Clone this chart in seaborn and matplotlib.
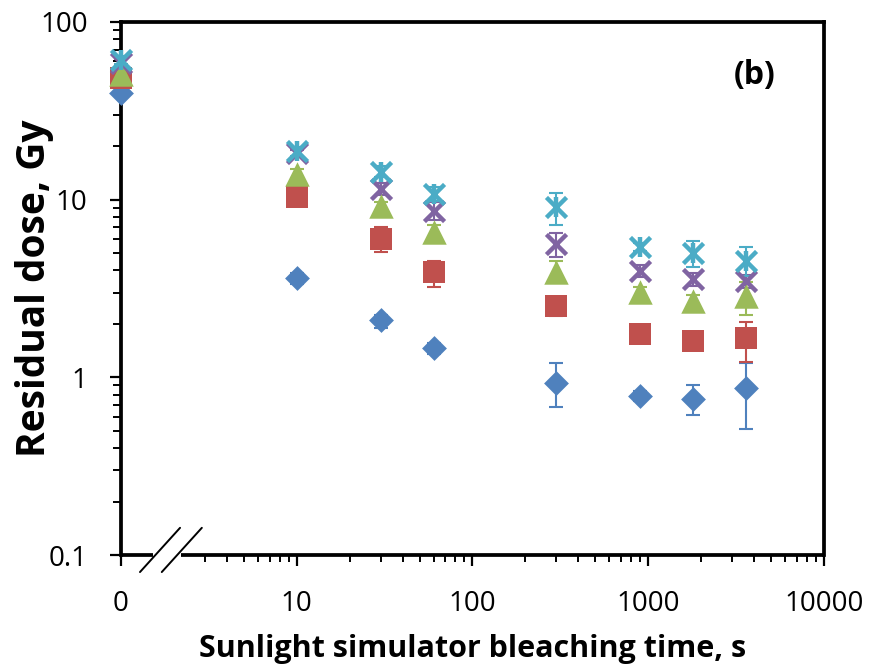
import numpy as np
import pandas as pd
import matplotlib
matplotlib.use("Agg")
import matplotlib.pyplot as plt
import seaborn as sns
from matplotlib.ticker import FixedLocator, FixedFormatter, NullFormatter, LogLocator

# ---- data (t = 0 is drawn at the axis origin, x = 1) ----
times = [1, 10, 30, 60, 300, 900, 1800, 3600]
x_tick_values = [1, 10, 100, 1000, 10000]
x_tick_labels = ["0", "10", "100", "1000", "10000"]
y_tick_values = [0.1, 1, 10, 100]
y_tick_labels = ["0.1", "1", "10", "100"]

blue = [39.7, 3.62, 2.10, 1.46, 0.93, 0.79, 0.76, 0.87]
blue_lo = [2.0, 0.25, 0.20, 0.10, 0.25, 0.05, 0.15, 0.36]
blue_hi = [2.0, 0.25, 0.15, 0.10, 0.27, 0.05, 0.14, 0.34]

red = [48.3, 10.4, 6.0, 3.92, 2.52, 1.75, 1.60, 1.66]
red_lo = [3.0, 0.5, 0.90, 0.70, 0.30, 0.10, 0.10, 0.44]
red_hi = [3.0, 0.5, 1.00, 0.60, 0.30, 0.10, 0.10, 0.38]

green = [51.0, 14.0, 9.25, 6.6, 3.92, 3.02, 2.69, 2.87]
green_lo = [2.0, 0.8, 0.5, 0.6, 0.5, 0.2, 0.2, 0.63]
green_hi = [2.0, 0.8, 0.5, 0.6, 0.6, 0.2, 0.2, 0.57]

purple = [58.6, 18.2, 11.5, 8.67, 5.64, 3.97, 3.58, 3.49]
purple_lo = [3.0, 0.8, 0.9, 1.0, 0.88, 0.3, 0.3, 0.3]
purple_hi = [3.0, 0.8, 0.9, 1.0, 0.86, 0.3, 0.3, 0.3]

cyan = [61.0, 18.7, 14.4, 10.8, 9.13, 5.43, 5.02, 4.52]
cyan_lo = [3.0, 1.0, 1.0, 1.0, 1.9, 0.3, 0.85, 0.8]
cyan_hi = [3.0, 1.0, 1.0, 1.0, 1.8, 0.3, 0.85, 0.9]

series = [
    ("Blue", blue, blue_lo, blue_hi, "#4F81BD", "D", 160),
    ("Red", red, red_lo, red_hi, "#C0504D", "s", 270),
    ("Green", green, green_lo, green_hi, "#9BBB59", "^", 310),
    ("Purple", purple, purple_lo, purple_hi, "#8064A2", "x", 210),
    ("Cyan", cyan, cyan_lo, cyan_hi, "#4BACC6", "x", 210),
]

sns.set_style("ticks")
plt.rcParams['font.family'] = ['Open Sans', 'DejaVu Sans']
plt.rcParams['text.color'] = 'black'
plt.rcParams['axes.labelcolor'] = 'black'
plt.rcParams['xtick.color'] = 'black'
plt.rcParams['ytick.color'] = 'black'

fig = plt.figure(figsize=(8.7, 6.71), dpi=100)
ax = fig.add_axes([121/870, 1-555/671, (824-121)/870, (555-22)/671])

for name, vals, lo, hi, col, mk, size in series:
    df = pd.DataFrame({"t": times, "v": vals})
    ax.errorbar(times, vals, yerr=[lo, hi], fmt="none", ecolor=col,
                elinewidth=1.5, capsize=5, capthick=1.5, clip_on=False, zorder=2)
    if mk == "x":
        sns.scatterplot(data=df, x="t", y="v", marker="x", s=size, color=col,
                        linewidth=3.2, ax=ax, clip_on=False, zorder=3)
        if name == "Cyan":
            sns.scatterplot(data=df, x="t", y="v", marker="|", s=size, color=col,
                            linewidth=3.2, ax=ax, clip_on=False, zorder=3)
    else:
        sns.scatterplot(data=df, x="t", y="v", marker=mk, s=size, color=col,
                        edgecolor=col, linewidth=0, ax=ax, clip_on=False, zorder=3)

ax.set_xscale("log")
ax.set_yscale("log")
ax.set_xlim(1, 10000)
ax.set_ylim(0.1, 100)

ax.xaxis.set_major_locator(FixedLocator(x_tick_values))
ax.xaxis.set_major_formatter(FixedFormatter(x_tick_labels))
minor_x = [m * 10**e for e in range(0, 4) for m in range(2, 10) if not (e == 0 and m < 3)]
ax.xaxis.set_minor_locator(FixedLocator(minor_x))
ax.xaxis.set_minor_formatter(NullFormatter())
ax.yaxis.set_major_locator(FixedLocator(y_tick_values))
ax.yaxis.set_major_formatter(FixedFormatter(y_tick_labels))
ax.yaxis.set_minor_locator(LogLocator(base=10, subs=np.arange(2, 10)))
ax.yaxis.set_minor_formatter(NullFormatter())

for s in ax.spines.values():
    s.set_linewidth(2.7)
    s.set_color("black")
ax.spines["bottom"].set_visible(False)

# broken bottom axis
gap0, gap1 = 0.046, 0.085
ax.plot([-0.002, gap0], [0, 0], transform=ax.transAxes, color="black", lw=2.7,
        clip_on=False, solid_capstyle="butt", zorder=5)
ax.plot([gap1, 1.002], [0, 0], transform=ax.transAxes, color="black", lw=2.7,
        clip_on=False, solid_capstyle="butt", zorder=5)
for x0 in (0.027, 0.058):
    ax.plot([x0, x0 + 0.057], [-0.032, 0.051], transform=ax.transAxes,
            color="black", lw=1.4, clip_on=False, zorder=5)

ax.tick_params(axis="x", which="major", direction="out", length=8, width=1.6,
               labelsize=20, pad=17)
ax.tick_params(axis="x", which="minor", direction="out", length=5, width=1.4)
ax.tick_params(axis="y", which="major", direction="out", length=8, width=1.6,
               labelsize=20, pad=16)
ax.tick_params(axis="y", which="minor", direction="out", length=6, width=1.4)

ax.set_xlabel("Sunlight simulator bleaching time, s", fontsize=22,
              fontweight="bold", color="black")
ax.xaxis.set_label_coords(0.5, -0.148)
ax.set_ylabel("Residual dose, Gy", fontsize=28, fontweight="bold", color="black")
ax.yaxis.set_label_coords(-0.095, 0.5)

ax.text(0.902, 0.90, "(b)", transform=ax.transAxes, fontsize=23,
        fontweight="bold", ha="center", va="center", color="black")

fig.savefig("out.png", dpi=100)
